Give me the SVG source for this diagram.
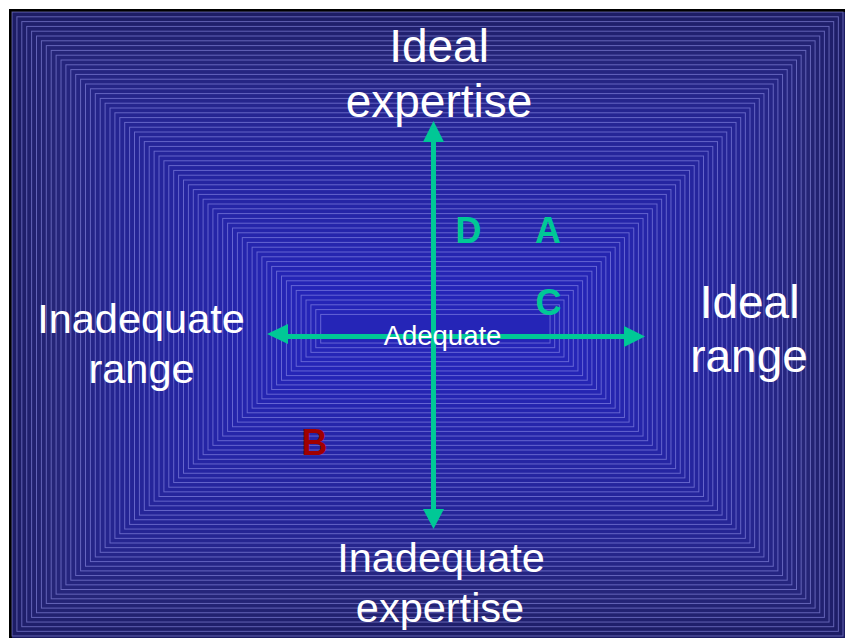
<svg xmlns="http://www.w3.org/2000/svg" width="845" height="638" viewBox="0 0 845 638">
<style>
.bg rect{fill:#4444ec;fill-opacity:0.027;stroke:#9a9af0;stroke-opacity:0.55;stroke-width:1}
.big{font-family:"Liberation Sans",Arial,sans-serif;font-size:46px;fill:#ffffff;text-anchor:middle}
.mid{font-family:"Liberation Sans",Arial,sans-serif;font-size:41.5px;fill:#ffffff;text-anchor:middle}
.small{font-family:"Liberation Sans",Arial,sans-serif;font-size:27.5px;fill:#ffffff;text-anchor:middle}
.lt{font-family:"Liberation Sans",Arial,sans-serif;font-size:36px;font-weight:bold;text-anchor:middle}
.ax{stroke:#00c896;stroke-width:5;fill:none}
.ah{fill:#00c896}
</style>
<rect x="0" y="0" width="845" height="638" fill="#ffffff"/>
<rect x="9" y="9" width="838" height="631" fill="#000000"/>
<rect x="12" y="12" width="833" height="626" fill="#1c1c62"/>
<g class="bg">
<rect x="12" y="12" width="831" height="624"/>
<rect x="16.9" y="16.8" width="821.45" height="614.55"/>
<rect x="21.8" y="21.6" width="811.9" height="605.1"/>
<rect x="26.7" y="26.4" width="802.35" height="595.65"/>
<rect x="31.6" y="31.2" width="792.8" height="586.2"/>
<rect x="36.5" y="36" width="783.25" height="576.75"/>
<rect x="41.4" y="40.8" width="773.7" height="567.3"/>
<rect x="46.3" y="45.6" width="764.15" height="557.85"/>
<rect x="51.2" y="50.4" width="754.6" height="548.4"/>
<rect x="56.1" y="55.2" width="745.05" height="538.95"/>
<rect x="61" y="60" width="735.5" height="529.5"/>
<rect x="65.9" y="64.8" width="725.95" height="520.05"/>
<rect x="70.8" y="69.6" width="716.4" height="510.6"/>
<rect x="75.7" y="74.4" width="706.85" height="501.15"/>
<rect x="80.6" y="79.2" width="697.3" height="491.7"/>
<rect x="85.5" y="84" width="687.75" height="482.25"/>
<rect x="90.4" y="88.8" width="678.2" height="472.8"/>
<rect x="95.3" y="93.6" width="668.65" height="463.35"/>
<rect x="100.2" y="98.4" width="659.1" height="453.9"/>
<rect x="105.1" y="103.2" width="649.55" height="444.45"/>
<rect x="110" y="108" width="640" height="435"/>
<rect x="114.9" y="112.8" width="630.45" height="425.55"/>
<rect x="119.8" y="117.6" width="620.9" height="416.1"/>
<rect x="124.7" y="122.4" width="611.35" height="406.65"/>
<rect x="129.6" y="127.2" width="601.8" height="397.2"/>
<rect x="134.5" y="132" width="592.25" height="387.75"/>
<rect x="139.4" y="136.8" width="582.7" height="378.3"/>
<rect x="144.3" y="141.6" width="573.15" height="368.85"/>
<rect x="149.2" y="146.4" width="563.6" height="359.4"/>
<rect x="154.1" y="151.2" width="554.05" height="349.95"/>
<rect x="159" y="156" width="544.5" height="340.5"/>
<rect x="163.9" y="160.8" width="534.95" height="331.05"/>
<rect x="168.8" y="165.6" width="525.4" height="321.6"/>
<rect x="173.7" y="170.4" width="515.85" height="312.15"/>
<rect x="178.6" y="175.2" width="506.3" height="302.7"/>
<rect x="183.5" y="180" width="496.75" height="293.25"/>
<rect x="188.4" y="184.8" width="487.2" height="283.8"/>
<rect x="193.3" y="189.6" width="477.65" height="274.35"/>
<rect x="198.2" y="194.4" width="468.1" height="264.9"/>
<rect x="203.1" y="199.2" width="458.55" height="255.45"/>
<rect x="208" y="204" width="449" height="246"/>
<rect x="212.9" y="208.8" width="439.45" height="236.55"/>
<rect x="217.8" y="213.6" width="429.9" height="227.1"/>
<rect x="222.7" y="218.4" width="420.35" height="217.65"/>
<rect x="227.6" y="223.2" width="410.8" height="208.2"/>
<rect x="232.5" y="228" width="401.25" height="198.75"/>
<rect x="237.4" y="232.8" width="391.7" height="189.3"/>
<rect x="242.3" y="237.6" width="382.15" height="179.85"/>
<rect x="247.2" y="242.4" width="372.6" height="170.4"/>
<rect x="252.1" y="247.2" width="363.05" height="160.95"/>
<rect x="257" y="252" width="353.5" height="151.5"/>
<rect x="261.9" y="256.8" width="343.95" height="142.05"/>
<rect x="266.8" y="261.6" width="334.4" height="132.6"/>
<rect x="271.7" y="266.4" width="324.85" height="123.15"/>
<rect x="276.6" y="271.2" width="315.3" height="113.7"/>
<rect x="281.5" y="276" width="305.75" height="104.25"/>
<rect x="286.4" y="280.8" width="296.2" height="94.8"/>
<rect x="291.3" y="285.6" width="286.65" height="85.35"/>
<rect x="296.2" y="290.4" width="277.1" height="75.9"/>
<rect x="301.1" y="295.2" width="267.55" height="66.45"/>
<rect x="306" y="300" width="258" height="57"/>
<rect x="310.9" y="304.8" width="248.45" height="47.55"/>
<rect x="315.8" y="309.6" width="238.9" height="38.1"/>
<rect x="320.7" y="314.4" width="229.35" height="28.65"/>
</g>
<g id="connectors">
<line class="ax" x1="433.5" y1="140" x2="433.5" y2="511"/>
<polygon class="ah" points="433.5,121 423,142 444,142"/>
<polygon class="ah" points="433.5,529 423,509 444,509"/>
<line class="ax" x1="285" y1="336.5" x2="627" y2="336.5"/>
<polygon class="ah" points="267,334 288,324 288,344"/>
<polygon class="ah" points="645,336.5 624,326 624,347"/>
</g>
<g id="ideal-expertise"><text class="big" x="439" y="62">Ideal</text><text class="big" x="439" y="117">expertise</text></g>
<g id="inadequate-expertise"><text class="mid" x="441" y="572">Inadequate</text><text class="mid" x="440" y="622">expertise</text></g>
<g id="inadequate-range"><text class="mid" x="141" y="333">Inadequate</text><text class="mid" x="141.5" y="383">range</text></g>
<g id="ideal-range"><text class="big" x="749.5" y="318">Ideal</text><text class="big" x="749" y="372">range</text></g>
<g id="adequate"><text class="small" x="442.5" y="345">Adequate</text></g>
<g id="D"><text class="lt" x="468.5" y="243" fill="#00c896">D</text></g>
<g id="A"><text class="lt" x="548" y="243" fill="#00c896">A</text></g>
<g id="C"><text class="lt" x="548.5" y="315" fill="#00c896">C</text></g>
<g id="B"><text class="lt" x="314.5" y="455" fill="#a00000">B</text></g>
</svg>
